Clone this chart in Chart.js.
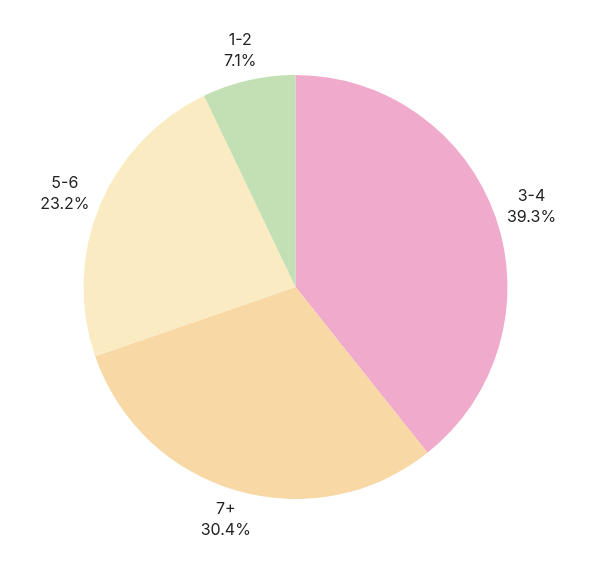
<!DOCTYPE html>
<html>
<head>
    <title>Group size</title>
    <script src="https://cdn.jsdelivr.net/npm/chart.js"></script>
    <style>
        body { margin: 0; background: #fff; }
    </style>
</head>
<body>
    <canvas id="pieChart" width="600" height="582"></canvas>

    <script>
        const labels = ['3-4', '7+', '5-6', '1-2'];
        const shares = [39.3, 30.4, 23.2, 7.1];
        const colors = ['#F0AACB', '#F8D8A5', '#FAEBC2', '#C2E0B4'];

        // draws "label / pct" outside each slice
        const outsideLabels = {
            id: 'outsideLabels',
            afterDatasetsDraw(chart) {
                const ctx = chart.ctx;
                const meta = chart.getDatasetMeta(0);
                ctx.save();
                ctx.fillStyle = '#222';
                ctx.font = '16px Inter, "Open Sans", sans-serif';
                ctx.textAlign = 'center';
                ctx.textBaseline = 'middle';
                meta.data.forEach((arc, i) => {
                    const mid = (arc.startAngle + arc.endAngle) / 2;
                    const x = arc.x + Math.cos(mid) * (arc.outerRadius + 38);
                    const y = arc.y + Math.sin(mid) * (arc.outerRadius + 30);
                    ctx.fillText(labels[i], x, y - 10.5);
                    ctx.fillText(shares[i].toFixed(1) + '%', x, y + 10.5);
                });
                ctx.restore();
            }
        };

        new Chart(document.getElementById('pieChart'), {
            type: 'pie',
            data: {
                labels: labels,
                datasets: [{
                    data: shares,
                    backgroundColor: colors,
                    borderWidth: 0
                }]
            },
            options: {
                responsive: false,
                animation: false,
                layout: { padding: { left: 83, right: 92, top: 75, bottom: 83 } },
                plugins: {
                    legend: { display: false },
                    tooltip: { enabled: false }
                }
            },
            plugins: [outsideLabels]
        });
    </script>
</body>
</html>
